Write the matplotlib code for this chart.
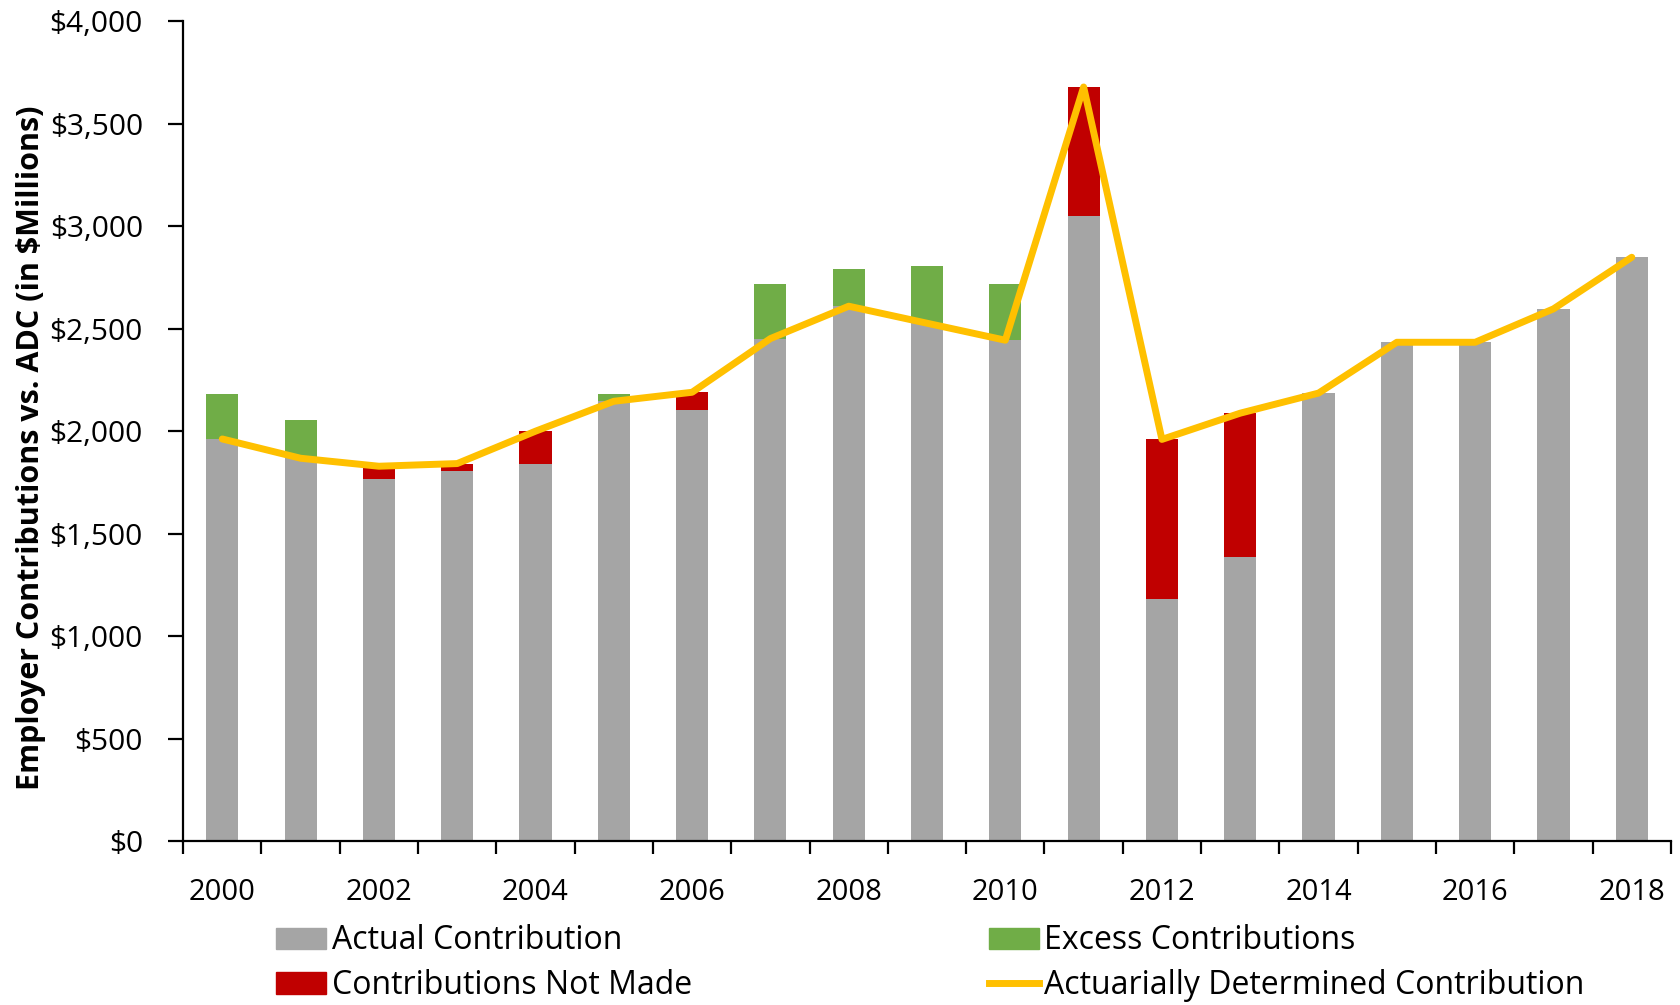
import matplotlib
matplotlib.use("Agg")
import matplotlib.pyplot as plt
from matplotlib.patches import Patch
from matplotlib.lines import Line2D
from matplotlib.ticker import FuncFormatter, FixedLocator
import numpy as np

plt.rcParams['font.family'] = ['Open Sans', 'DejaVu Sans']

years = [2000, 2001, 2002, 2003, 2004, 2005, 2006, 2007, 2008, 2009,
         2010, 2011, 2012, 2013, 2014, 2015, 2016, 2017, 2018]
# Actuarially determined contribution (ADC), $ millions
adc = [1962, 1868, 1829, 1842, 2000, 2146, 2190, 2452, 2610, 2527,
       2444, 3680, 1960, 2088, 2186, 2434, 2434, 2597, 2849]
# Employer contributions actually paid, $ millions
actual = [2182, 2053, 1768, 1806, 1842, 2182, 2102, 2720, 2793, 2806,
          2720, 3050, 1181, 1386, 2186, 2434, 2434, 2597, 2849]

series_labels = ["Actual Contribution", "Excess Contributions",
                 "Contributions Not Made", "Actuarially Determined Contribution"]
yticks = [0, 500, 1000, 1500, 2000, 2500, 3000, 3500, 4000]

c_gray = "#A5A5A5"
c_green = "#70AD47"
c_red = "#C00000"
c_line = "#FFC000"

adc_a = np.array(adc, dtype=float)
act_a = np.array(actual, dtype=float)
base = np.minimum(adc_a, act_a)
excess = np.clip(act_a - adc_a, 0, None)
shortfall = np.clip(adc_a - act_a, 0, None)

x = np.arange(len(years))

fig = plt.figure(figsize=(16.8, 10.05), dpi=100)
ax = fig.add_axes([0.109, 0.1632, 0.8856, 0.8155])

bw = 0.41
ax.bar(x, base, width=bw, color=c_gray, zorder=2)
ax.bar(x, excess, width=bw, bottom=base, color=c_green, zorder=2)
ax.bar(x, shortfall, width=bw, bottom=base, color=c_red, zorder=2)
ax.plot(x, adc_a, color=c_line, lw=5, solid_joinstyle='round',
        solid_capstyle='round', zorder=3)

ax.set_xlim(-0.5, len(years) - 0.5)
ax.set_ylim(0, 4000)

for s in ("top", "right"):
    ax.spines[s].set_visible(False)
for s in ("left", "bottom"):
    ax.spines[s].set_linewidth(1.6)
    ax.spines[s].set_color("black")

# category boundaries as major x ticks, year labels on every other category
ax.xaxis.set_major_locator(FixedLocator(np.arange(-0.5, len(years), 1.0)))
ax.xaxis.set_major_formatter(FuncFormatter(lambda v, p: ""))
ax.xaxis.set_minor_locator(FixedLocator(x[::2]))
ax.set_xticklabels([str(y) for y in years[::2]], minor=True)
ax.tick_params(axis="x", which="major", direction="out", length=9, width=1.6)
ax.tick_params(axis="x", which="minor", length=0, pad=27, labelsize=21)

ax.set_yticks(yticks)
ax.yaxis.set_major_formatter(FuncFormatter(lambda v, p: f"${v:,.0f}"))
ax.tick_params(axis="y", direction="out", length=11, width=1.6, pad=18,
               labelsize=21.5)

ax.set_ylabel("Employer Contributions vs. ADC (in $Millions)", fontsize=22,
              fontweight="bold")
ax.yaxis.set_label_coords(-0.092, 0.48)

handles = [Patch(color=c_gray), Patch(color=c_red),
           Patch(color=c_green), Line2D([0], [0], color=c_line, lw=5)]
labels = [series_labels[0], series_labels[2], series_labels[1], series_labels[3]]
fig.legend(handles, labels, ncol=2, frameon=False, fontsize=23,
           loc="lower left", bbox_to_anchor=(0.1643, 0.003),
           borderpad=0, borderaxespad=0,
           handlelength=1.57, handleheight=0.66, handletextpad=0.17,
           columnspacing=9.3, labelspacing=0.36)

fig.savefig("out.png", dpi=100)
